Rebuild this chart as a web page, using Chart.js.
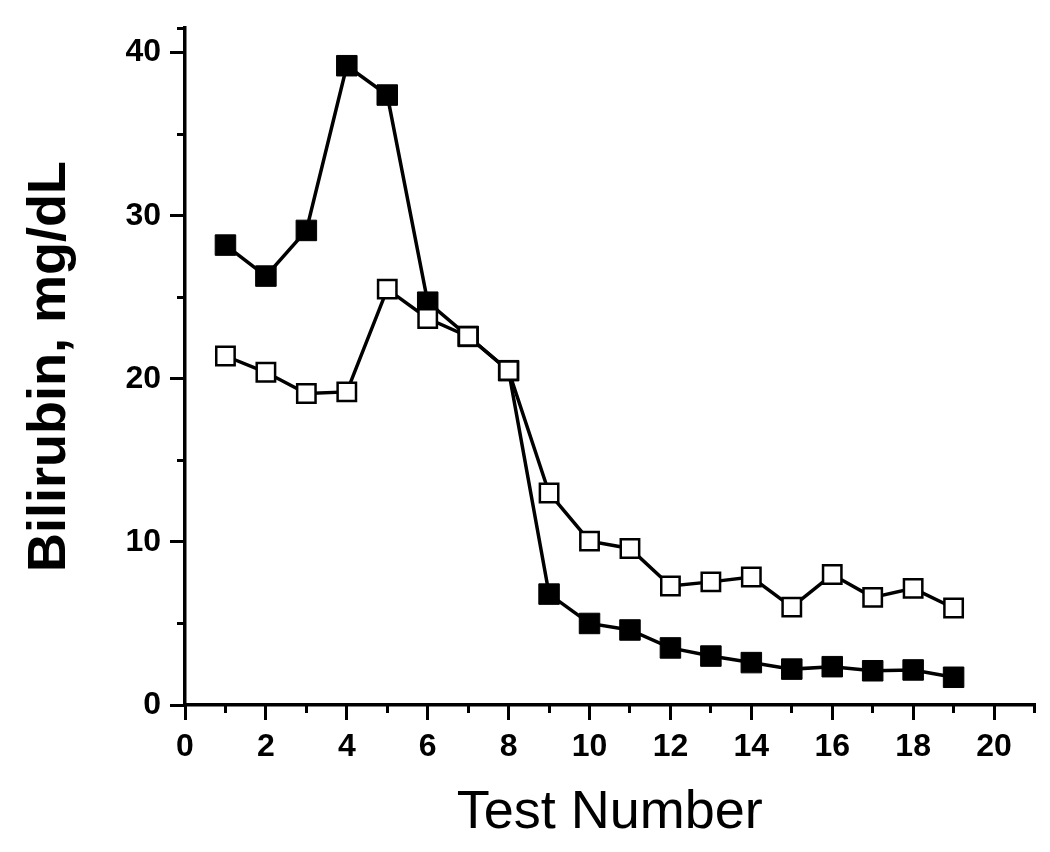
<!DOCTYPE html>
<html>
<head>
<meta charset="utf-8">
<script src="https://cdn.jsdelivr.net/npm/chart.js@4.4.1/dist/chart.umd.min.js"></script>
<style>
  html, body { margin: 0; padding: 0; background: #fff; }
  #wrap { width: 1050px; height: 852px; position: relative; }
</style>
</head>
<body>
<div id="wrap"><canvas id="bili-chart"></canvas></div>
<script>
// test numbers on the x axis
const testNumbers = [1, 2, 3, 4, 5, 6, 7, 8, 9, 10, 11, 12, 13, 14, 15, 16, 17, 18, 19];

// filled squares
const filledValues = [28.2, 26.3, 29.1, 39.2, 37.4, 24.7, 22.6, 20.5, 6.8, 5.0, 4.6, 3.5, 3.0, 2.6, 2.2, 2.35, 2.1, 2.15, 1.7];

// open squares
const openValues = [21.4, 20.4, 19.1, 19.2, 25.5, 23.7, 22.6, 20.5, 13.0, 10.05, 9.6, 7.3, 7.55, 7.85, 6.0, 8.0, 6.6, 7.15, 5.95];

const xMajorStep = 2;
const yMajorStep = 10;

function toPoints(values) {
    return testNumbers.map((x, i) => ({ x: x, y: values[i] }));
}

const fontFamily = "'Liberation Sans', Arial, sans-serif";
const labelFont = { family: fontFamily, size: 32, weight: 'bold' };

const ctx = document.getElementById('bili-chart').getContext('2d');

new Chart(ctx, {
    type: 'scatter',
    data: {
        datasets: [
            {
                label: 'filled',
                data: toPoints(filledValues),
                showLine: true,
                borderColor: '#000',
                borderWidth: 3.5,
                pointStyle: 'rect',
                pointRadius: 14.5,
                pointBackgroundColor: '#000',
                pointBorderColor: '#000',
                pointBorderWidth: 1,
                order: 2
            },
            {
                label: 'open',
                data: toPoints(openValues),
                showLine: true,
                borderColor: '#000',
                borderWidth: 3.5,
                pointStyle: 'rect',
                pointRadius: 13,
                pointBackgroundColor: '#fff',
                pointBorderColor: '#000',
                pointBorderWidth: 2.5,
                order: 1
            }
        ]
    },
    options: {
        responsive: true,
        maintainAspectRatio: false,
        animation: false,
        layout: { padding: { top: 28, right: 13, left: 0, bottom: 0 } },
        plugins: {
            legend: { display: false },
            tooltip: { enabled: false }
        },
        scales: {
            x: {
                type: 'linear',
                position: 'bottom',
                weight: 1,
                min: 0,
                max: 21,
                border: { display: true, color: '#000', width: 3.5 },
                grid: { drawOnChartArea: false, tickLength: 15, lineWidth: 3, tickWidth: 3, tickColor: '#000' },
                ticks: { stepSize: xMajorStep, includeBounds: false, color: '#000', font: labelFont, padding: 8, maxRotation: 0 },
                title: {
                    display: true,
                    text: 'Test Number',
                    color: '#000',
                    font: { family: fontFamily, size: 54 },
                    padding: { top: 0, bottom: 6 }
                },
                afterFit: (scale) => { scale.height = 147; }
            },
            x2: {
                type: 'linear',
                position: 'bottom',
                weight: 0,
                min: 0,
                max: 21,
                border: { display: false },
                grid: { drawOnChartArea: false, tickLength: 8, lineWidth: 3, tickWidth: 3, tickColor: '#000' },
                ticks: { stepSize: 1, display: false },
                afterFit: (scale) => { scale.height = 0; }
            },
            y: {
                type: 'linear',
                position: 'left',
                weight: 1,
                min: 0,
                max: 41.5,
                border: { display: true, color: '#000', width: 3.5 },
                grid: { drawOnChartArea: false, tickLength: 15, lineWidth: 3, tickWidth: 3, tickColor: '#000' },
                ticks: { stepSize: yMajorStep, includeBounds: false, color: '#000', font: labelFont, padding: 9 },
                title: {
                    display: true,
                    text: 'Bilirubin, mg/dL',
                    color: '#000',
                    font: { family: fontFamily, size: 54, weight: 'bold' },
                    padding: { top: 18, bottom: 0 }
                },
                afterFit: (scale) => { scale.width = 185; }
            },
            y2: {
                type: 'linear',
                position: 'left',
                weight: 0,
                min: 0,
                max: 41.5,
                border: { display: false },
                grid: { drawOnChartArea: false, tickLength: 8, lineWidth: 3, tickWidth: 3, tickColor: '#000' },
                ticks: { stepSize: 5, display: false },
                afterFit: (scale) => { scale.width = 0; }
            }
        }
    }
});
</script>
</body>
</html>
